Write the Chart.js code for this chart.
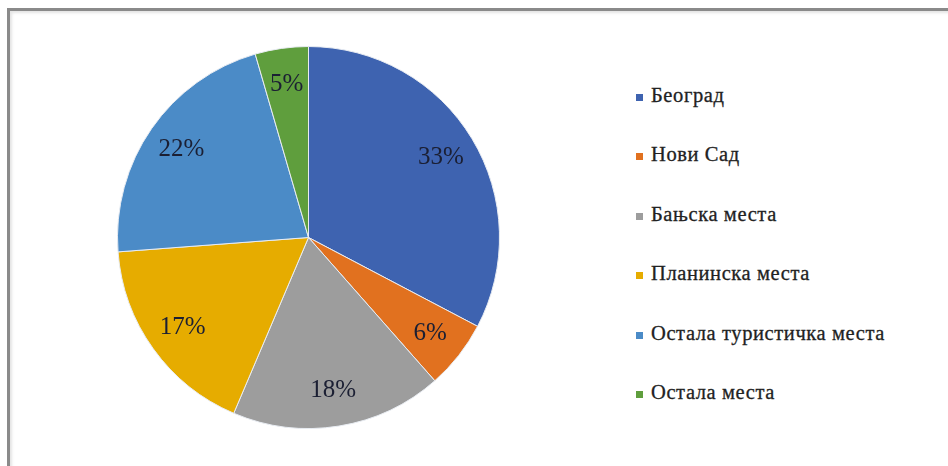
<!DOCTYPE html>
<html>
<head>
<meta charset="utf-8">
<script src="https://cdn.jsdelivr.net/npm/chart.js@4.4.1/dist/chart.umd.min.js"></script>
<style>
    body { margin: 0; background: #fff; width: 948px; height: 466px; overflow: hidden; position: relative; }
    #frame {
        position: absolute; left: 7px; top: 8px; width: 950px; height: 470px;
        border-left: 3px solid #8a8a8a; border-top: 3px solid #8a8a8a;
        box-shadow: inset 2px 2px 3px #e4e4e4;
    }
    #chartBox { position: absolute; left: 117px; top: 46px; width: 383px; height: 383px; }
    #legendContainer {
        position: absolute; left: 636px; top: 83px;
        font-family: "Liberation Serif", "Times New Roman", serif;
        font-size: 20.5px; color: #222; letter-spacing: 0.6px;
        -webkit-text-stroke: 0.3px #222;
    }
</style>
</head>
<body>
<div id="frame"></div>
<div id="chartBox"><canvas id="resultsChart"></canvas></div>
<div id="legendContainer"></div>

<script>
// Data (shares in %)
const categories = ['Београд', 'Нови Сад', 'Бањска места', 'Планинска места', 'Остала туристичка места', 'Остала места'];
const shares = [32.7, 5.8, 17.9, 17.4, 21.7, 4.5];
const shareLabels = ['33%', '6%', '18%', '17%', '22%', '5%'];

const sliceColors = ['#3e63b0', '#e1711f', '#9d9d9d', '#e6ac00', '#4b8bc7', '#5f9e3d'];

// draws the percentage text inside each slice
const sliceLabels = {
    id: 'sliceLabels',
    afterDatasetsDraw(chart) {
        const ctx = chart.ctx;
        const meta = chart.getDatasetMeta(0);
        ctx.save();
        ctx.font = '25px "Liberation Serif", serif';
        ctx.fillStyle = '#1b1f33';
        ctx.textAlign = 'center';
        ctx.textBaseline = 'middle';
        meta.data.forEach((arc, i) => {
            const mid = (arc.startAngle + arc.endAngle) / 2;
            const r = arc.outerRadius * 0.81;
            ctx.fillText(shareLabels[i], arc.x + Math.cos(mid) * r, arc.y + Math.sin(mid) * r);
        });
        ctx.restore();
    }
};

function drawChart() {
    const ctx = document.getElementById('resultsChart').getContext('2d');
    new Chart(ctx, {
        type: 'pie',
        data: {
            labels: categories,
            datasets: [{
                data: shares,
                backgroundColor: sliceColors,
                borderColor: '#e8ecf2',
                borderWidth: 1
            }]
        },
        options: {
            responsive: true,
            maintainAspectRatio: false,
            animation: false,
            layout: { padding: 0 },
            plugins: {
                legend: { display: false },
                tooltip: { enabled: false }
            }
        },
        plugins: [sliceLabels]
    });
}

// make sure the serif font is ready before the canvas text is drawn
document.fonts.load('25px "Liberation Serif"').then(drawChart, drawChart);

// custom legend on the right
const legendContainer = document.getElementById('legendContainer');
categories.forEach((name, index) => {
    const item = document.createElement('div');
    item.style.display = 'flex';
    item.style.alignItems = 'center';
    item.style.height = '24px';
    item.style.marginBottom = '35.6px';

    const box = document.createElement('div');
    box.style.width = '7px';
    box.style.height = '7px';
    box.style.marginTop = '4px';
    box.style.backgroundColor = sliceColors[index];

    const label = document.createElement('span');
    label.style.marginLeft = '8px';
    label.textContent = name;

    item.appendChild(box);
    item.appendChild(label);
    legendContainer.appendChild(item);
});
</script>
</body>
</html>
